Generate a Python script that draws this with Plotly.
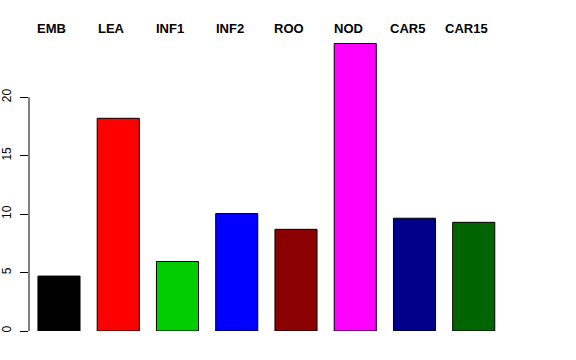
import plotly.graph_objects as go

categories = ["EMB", "LEA", "INF1", "INF2", "ROO", "NOD", "CAR5", "CAR15"]
values = [4.7, 18.2, 5.95, 10.05, 8.7, 24.6, 9.65, 9.3]
colors = ["#000000", "#FF0000", "#00CD00", "#0000FF", "#8B0000", "#FF00FF", "#00008B", "#006400"]
yticks = [0, 5, 10, 15, 20]

xpos = list(range(len(categories)))

fig = go.Figure()
fig.add_trace(go.Bar(
    x=xpos, y=values, width=0.71,
    marker=dict(color=colors, line=dict(color="black", width=1)),
    showlegend=False, hoverinfo="skip",
))

for xi, name in zip(xpos, categories):
    fig.add_annotation(x=xi, y=1.014, xref="x", yref="paper", text="<b>" + name + "</b>",
                       showarrow=False, xshift=-7, yanchor="middle", xanchor="center",
                       font=dict(family="Liberation Sans, Arial, sans-serif", size=13, color="black"))

# y axis line from first to last tick (R style)
fig.add_shape(type="line", xref="paper", yref="y", x0=0, x1=0, y0=yticks[0], y1=yticks[-1],
              line=dict(color="black", width=1))

fig.update_layout(
    width=576, height=360,
    margin=dict(l=29, r=43, t=33, b=29, autoexpand=False),
    paper_bgcolor="white", plot_bgcolor="white",
    font=dict(family="Liberation Sans, Arial, sans-serif", size=12, color="black"),
    xaxis=dict(range=[-0.506, 8.0], showticklabels=False, showgrid=False, zeroline=False,
               showline=False, ticks="", automargin=False),
    yaxis=dict(range=[0, 25.5], tickvals=yticks, ticktext=[str(v) for v in yticks],
               tickangle=-90, ticks="outside", ticklen=8, tickcolor="black", tickwidth=1,
               showgrid=False, zeroline=False, showline=False, ticklabelstandoff=4,
               tickfont=dict(size=12), automargin=False),
)

fig.write_html("out.html", config={"displayModeBar": False},
               post_script="document.body.style.margin='0';")
